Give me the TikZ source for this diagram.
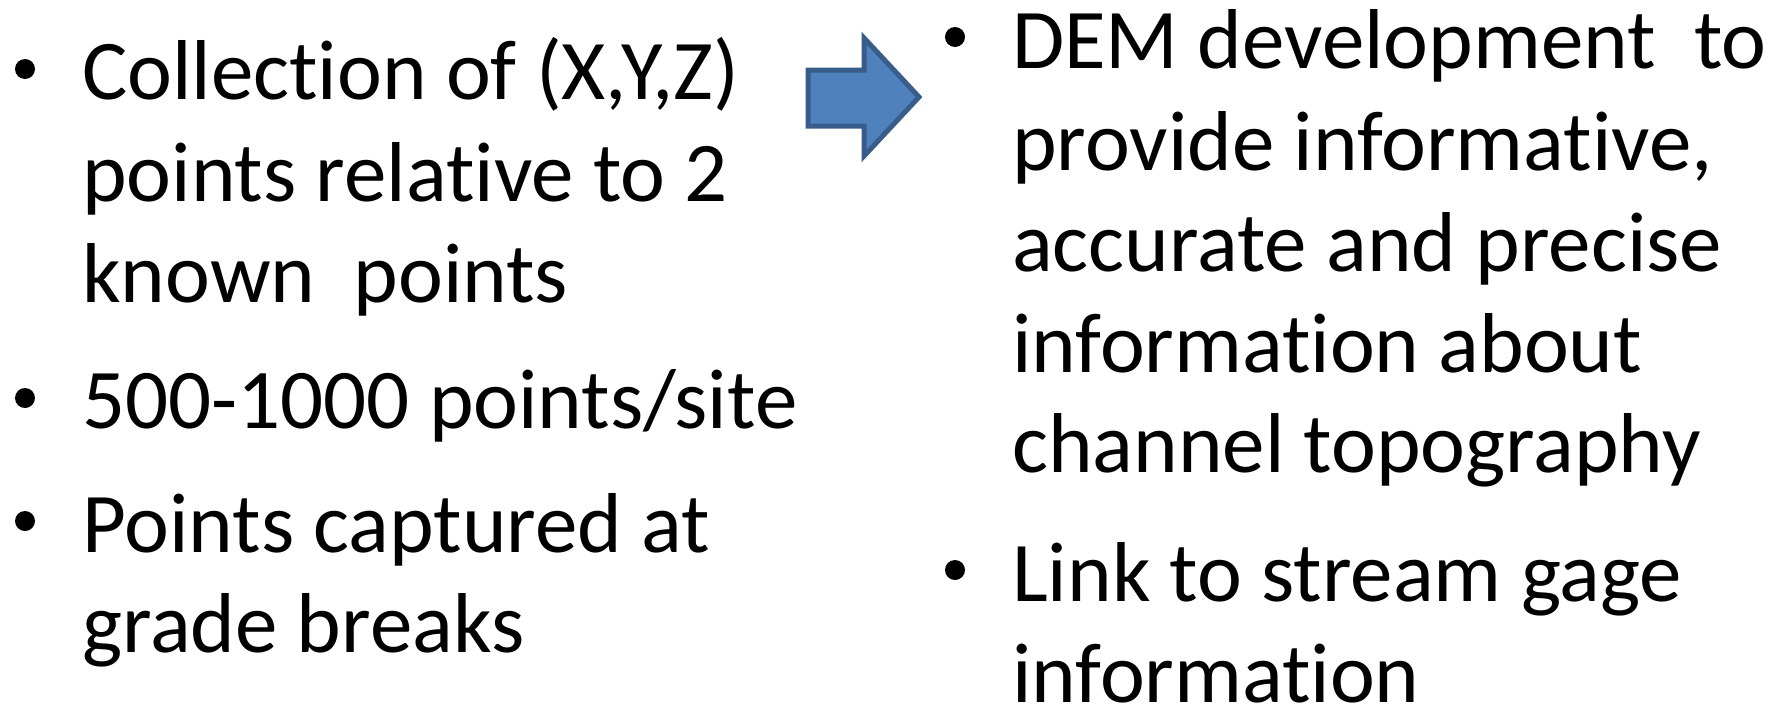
\documentclass[tikz,border=0pt]{standalone}
\usepackage{fontspec}
\setmainfont{Carlito}[Ligatures=NoCommon]
\definecolor{arrowfill}{HTML}{4F81BD}
\definecolor{arrowline}{HTML}{385D8A}
\begin{document}
\begin{tikzpicture}[x=1pt,y=-1pt,
  line/.style={anchor=base west,inner sep=0pt,font=\fontsize{85}{101}\selectfont},
  dot/.style={circle,fill=black,inner sep=0pt,minimum size=20pt}]
\useasboundingbox (0,0) rectangle (1774,707);

% left column
\node[dot] (b1) at (25,69) {};
\node[line] (a1) at (82,99)  {Collection of (X,Y,Z)};
\node[line] (a2) at (82,201) {points relative to 2};
\node[line] (a3) at (82,302) {known\ \ points};
\node[dot] (b2) at (25,398) {};
\node[line] (a4) at (82,428) {500-1000 points/site};
\node[dot] (b3) at (25,521) {};
\node[line] (a5) at (82,552) {Points captured at};
\node[line] (a6) at (82,652) {grade breaks};

% block arrow
\filldraw[fill=arrowfill,draw=arrowline,line width=5pt,line join=miter]
  (808,70) -- (864,70) -- (864,38) -- (919,97) -- (864,156) -- (864,126) -- (808,126) -- cycle;

% right column
\node[dot] (b4) at (955,37) {};
\node[line] (c1) at (1012,68)  {DEM development\ \ to};
\node[line] (c2) at (1012,170) {provide informative,};
\node[line] (c3) at (1012,271) {accurate and precise};
\node[line] (c4) at (1012,372) {information about};
\node[line] (c5) at (1012,472) {channel topography};
\node[dot] (b5) at (955,570) {};
\node[line] (c6) at (1012,601) {Link to stream gage};
\node[line] (c7) at (1012,702) {information};
\end{tikzpicture}
\end{document}
